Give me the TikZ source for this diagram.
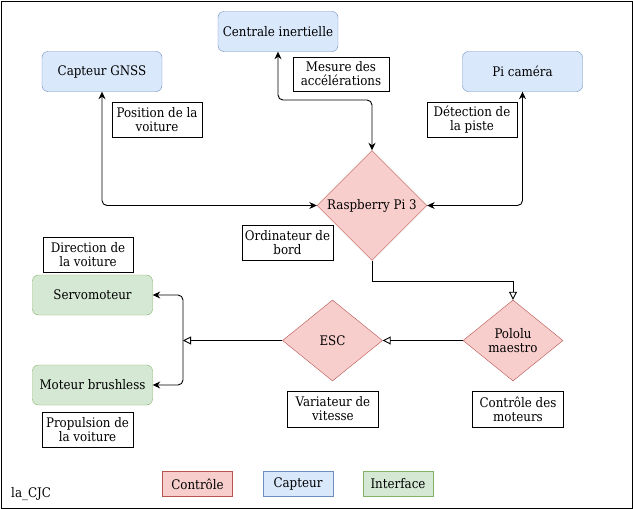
\documentclass[tikz,border=0pt]{standalone}
\usepackage{fontspec}
\setmainfont{DejaVu Serif Condensed}
\usetikzlibrary{shapes.geometric,arrows.meta}
\definecolor{bluefill}{HTML}{DAE8FC}
\definecolor{bluedraw}{HTML}{6C8EBF}
\definecolor{redfill}{HTML}{F8CECC}
\definecolor{reddraw}{HTML}{B85450}
\definecolor{greenfill}{HTML}{D5E8D4}
\definecolor{greendraw}{HTML}{82B366}
\tikzset{
  every node/.style={font=\fontsize{13.2}{14}\selectfont, align=center, inner sep=0pt},
  sensor/.style={draw=bluedraw, fill=bluefill, rounded corners=6pt, minimum width=120pt, minimum height=40pt},
  iface/.style={draw=greendraw, fill=greenfill, rounded corners=6pt, minimum width=120pt, minimum height=40pt},
  ctrl/.style={draw=reddraw, fill=redfill, diamond},
  lbl/.style={draw=black, fill=white, minimum height=35pt},
  leg/.style={minimum width=70pt, minimum height=25pt},
  biconn/.style={line width=0.9pt, {Stealth[length=7.5pt,width=7pt]}-{Stealth[length=7.5pt,width=7pt]}, rounded corners=5pt},
  openconn/.style={line width=0.9pt, -{Triangle[open,length=8pt,width=8pt]}},
}
\begin{document}
\begin{tikzpicture}[x=1pt,y=-1pt]
\draw[line width=0.8pt, fill=white] (1,1) rectangle (632,508);
\useasboundingbox (0,0) rectangle (633,509);

% sensors
\node[sensor] (imu) at (278,31.5) {Centrale inertielle};
\node[sensor] (gnss) at (102,71.5) {Capteur GNSS};
\node[sensor] (cam) at (522.5,71.5) {Pi caméra};

% labels top
\node[lbl, minimum width=96pt, minimum height=34pt] (lmes) at (341,74) {Mesure des\\accélérations};
\node[lbl, minimum width=90pt] (lpos) at (157,120) {Position de la\\voiture};
\node[lbl, minimum width=90pt] (ldet) at (472,120) {Détection de\\la piste};

% raspberry
\node[ctrl, minimum width=110pt, minimum height=110pt] (rpi) at (372,205.5) {Raspberry Pi 3};
\node[lbl, minimum width=91pt] (lord) at (287.5,242.5) {Ordinateur de\\bord};

% interfaces
\node[lbl, minimum width=90pt, minimum height=35pt] (ldir) at (88,254.5) {Direction de\\la voiture};
\node[iface] (servo) at (92.5,295) {Servomoteur};
\node[iface] (mot) at (92.5,385) {Moteur brushless};
\node[lbl, minimum width=91pt] (lprop) at (87.5,429.5) {Propulsion de\\la voiture};

% controllers
\node[ctrl, minimum width=100pt, minimum height=81pt] (esc) at (332.5,340.5) {ESC};
\node[ctrl, minimum width=100pt, minimum height=81pt] (pol) at (513,340.5) {Pololu\\maestro};
\node[lbl, minimum width=91pt, minimum height=36pt] (lvar) at (333,409) {Variateur de\\vitesse};
\node[lbl, minimum width=91pt, minimum height=36pt] (lctl) at (518,409) {Contrôle des\\moteurs};

% legend
\node[leg, draw=reddraw, fill=redfill] (lgc) at (197.5,484) {Contrôle};
\node[leg, draw=bluedraw, fill=bluefill] (lgs) at (298,484) {Capteur};
\node[leg, draw=greendraw, fill=greenfill] (lgi) at (398,484) {Interface};
\node[anchor=west] (cjc) at (11,494.5) {la\_CJC};

% connectors
\draw[biconn] (gnss.south) |- (rpi.west);
\draw[biconn] (cam.south) |- (rpi.east);
\draw[biconn] (imu.south) -- (imu.south |- 0,100) -| (rpi.north);
\draw[openconn] (rpi.south) -- (372,281) -| (pol.north);
\draw[openconn] (pol.west) -- (esc.east);
\coordinate (merge) at (183,340.5);
\draw[openconn] (esc.west) -- (merge);
\draw[biconn] (servo.east) -- (183,295) -- (183,385) -- (mot.east);
\end{tikzpicture}
\end{document}
